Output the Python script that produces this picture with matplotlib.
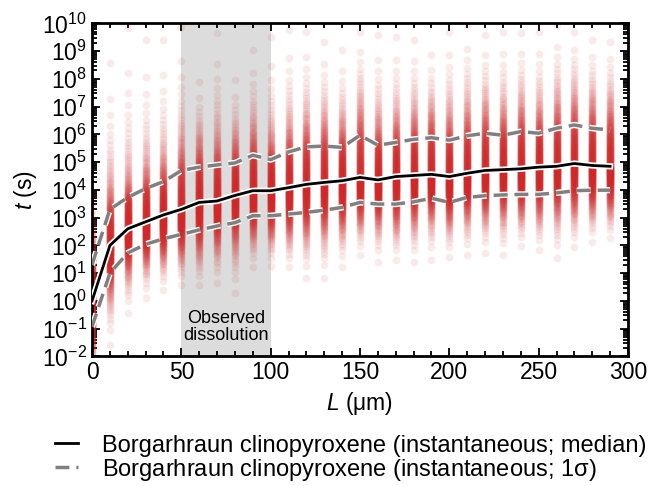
import numpy as np
import matplotlib
matplotlib.use('Agg')
import matplotlib.pyplot as plt
import matplotlib.patheffects as pe
from matplotlib.ticker import LogLocator, MultipleLocator, NullFormatter
from statistics import NormalDist

plt.rcParams['font.family'] = ['Liberation Sans', 'DejaVu Sans']
plt.rcParams['mathtext.fontset'] = 'custom'
plt.rcParams['mathtext.rm'] = 'Liberation Sans'
plt.rcParams['mathtext.it'] = 'Liberation Sans:italic'
plt.rcParams['mathtext.default'] = 'regular'

#-- crystal size L (um) and log10 of time t (s)
L = np.arange(0, 300, 10)
log_med = [0.0, 2.0, 2.6, 2.85, 3.1, 3.3, 3.55, 3.6, 3.8, 3.97,
           3.97, 4.08, 4.2, 4.27, 4.33, 4.45, 4.36, 4.48, 4.52, 4.56,
           4.48, 4.6, 4.7, 4.73, 4.76, 4.82, 4.85, 4.95, 4.88, 4.85]
log_hi = [1.3, 3.3, 3.73, 4.05, 4.3, 4.7, 4.82, 4.9, 4.97, 5.25,
          5.09, 5.37, 5.55, 5.58, 5.53, 5.97, 5.61, 5.71, 5.82, 5.88,
          5.79, 5.95, 6.04, 5.97, 6.1, 6.04, 6.22, 6.34, 6.22, 6.16]
log_lo = [-0.93, 1.0, 1.73, 2.04, 2.24, 2.4, 2.56, 2.7, 2.82, 3.07,
          3.07, 3.13, 3.19, 3.27, 3.37, 3.55, 3.49, 3.49, 3.57, 3.7,
          3.55, 3.73, 3.79, 3.82, 3.84, 3.84, 3.89, 3.97, 3.99, 3.99]
#-- extent of the point clouds (highest / lowest visible point)
log_top = [3.5, 8.56, 9.82, 9.4, 9.4, 9.88, 7.9, 9.64, 7.96, 9.04,
           9.52, 9.76, 9.7, 9.34, 9.04, 9.7, 9.58, 9.52, 9.4, 8.86,
           9.7, 9.94, 9.58, 9.7, 9.64, 9.7, 9.94, 9.7, 9.4, 9.34]
log_bot = [-3.0, -1.58, -0.45, 0.1, 0.4, 0.6, 1.0, 0.65, 0.28, 1.24,
           1.42, 1.42, 0.82, 0.82, 1.24, 1.66, 1.42, 1.6, 1.42, 1.48,
           1.6, 1.66, 1.74, 1.66, 2.26, 1.84, 1.54, 1.96, 2.14, 2.26]

n_pts = 400
red = '#d02828'

fig = plt.figure(figsize=(6.49, 4.86), dpi=100)
ax = fig.add_axes([0.1418, 0.2665, 0.8258, 0.6855])

ax.axvspan(50, 100, color='#dcdcdc', lw=0, zorder=0)
ax.text(75, 10**-0.95, 'Observed\ndissolution', ha='center', va='center',
        fontsize=13, linespacing=1.0, zorder=1)

#-- point clouds: quantiles spread between the read 1 sigma lines and extents
zq = np.array([NormalDist().inv_cdf((k + 0.5) / n_pts) for k in range(n_pts)])
zmax = zq.max()
for i in range(len(L)):
    su = log_hi[i] - log_med[i]
    sl = log_med[i] - log_lo[i]
    cu = max((log_top[i] - log_hi[i] - su * (zmax - 1)) / (zmax - 1) ** 2, 0)
    cl = max((log_lo[i] - log_bot[i] - sl * (zmax - 1)) / (zmax - 1) ** 2, 0)
    up = zq[zq >= 0]
    dn = -zq[zq < 0]
    v_up = log_med[i] + su * up + cu * np.clip(up - 1, 0, None) ** 2
    v_dn = log_med[i] - sl * dn - cl * np.clip(dn - 1, 0, None) ** 2
    vals = np.concatenate([v_dn, v_up])
    ax.scatter(np.full(vals.size, L[i]), 10 ** vals, s=32, c=red,
               alpha=0.09, linewidths=0, zorder=2)

stroke = [pe.Stroke(linewidth=4.5, foreground='white'), pe.Normal()]
ln_med, = ax.plot(L, 10 ** np.array(log_med), color='black', lw=2, zorder=4,
                  path_effects=stroke,
                  label='Borgarhraun clinopyroxene (instantaneous; median)')
ln_sig, = ax.plot(L, 10 ** np.array(log_hi), color='gray', lw=2.5, ls=(0, (4, 2)),
                  zorder=3, path_effects=stroke,
                  label='Borgarhraun clinopyroxene (instantaneous; 1$\\sigma$)')
ax.plot(L, 10 ** np.array(log_lo), color='gray', lw=2.5, ls=(0, (4, 2)),
        zorder=3, path_effects=stroke)

ax.set_yscale('log')
ax.set_xlim(0, 300)
ax.set_ylim(1e-2, 1e10)
ax.yaxis.set_major_locator(LogLocator(base=10, numticks=30))
ax.yaxis.set_minor_locator(LogLocator(base=10, subs=np.arange(2, 10), numticks=300))
ax.yaxis.set_minor_formatter(NullFormatter())
ax.xaxis.set_major_locator(MultipleLocator(50))
ax.xaxis.set_minor_locator(MultipleLocator(10))

ax.tick_params(which='both', direction='in', top=True, right=True,
               labelsize=16.5, width=1.3)
ax.tick_params(which='major', length=6)
ax.tick_params(which='minor', length=3.5)
for sp in ax.spines.values():
    sp.set_linewidth(2)

ax.set_xlabel('$\\mathit{L}$ ($\\mu$m)', fontsize=16.5, labelpad=4)
ax.set_ylabel('$\\mathit{t}$ (s)', fontsize=16.5, labelpad=2)

fig.legend(handles=[ln_med, ln_sig], loc='upper left',
           bbox_to_anchor=(0.07, 0.125), frameon=False, fontsize=17,
           handlelength=1.0, handletextpad=1.0, labelspacing=0.0,
           borderaxespad=0)

fig.savefig('out.png', dpi=100)
